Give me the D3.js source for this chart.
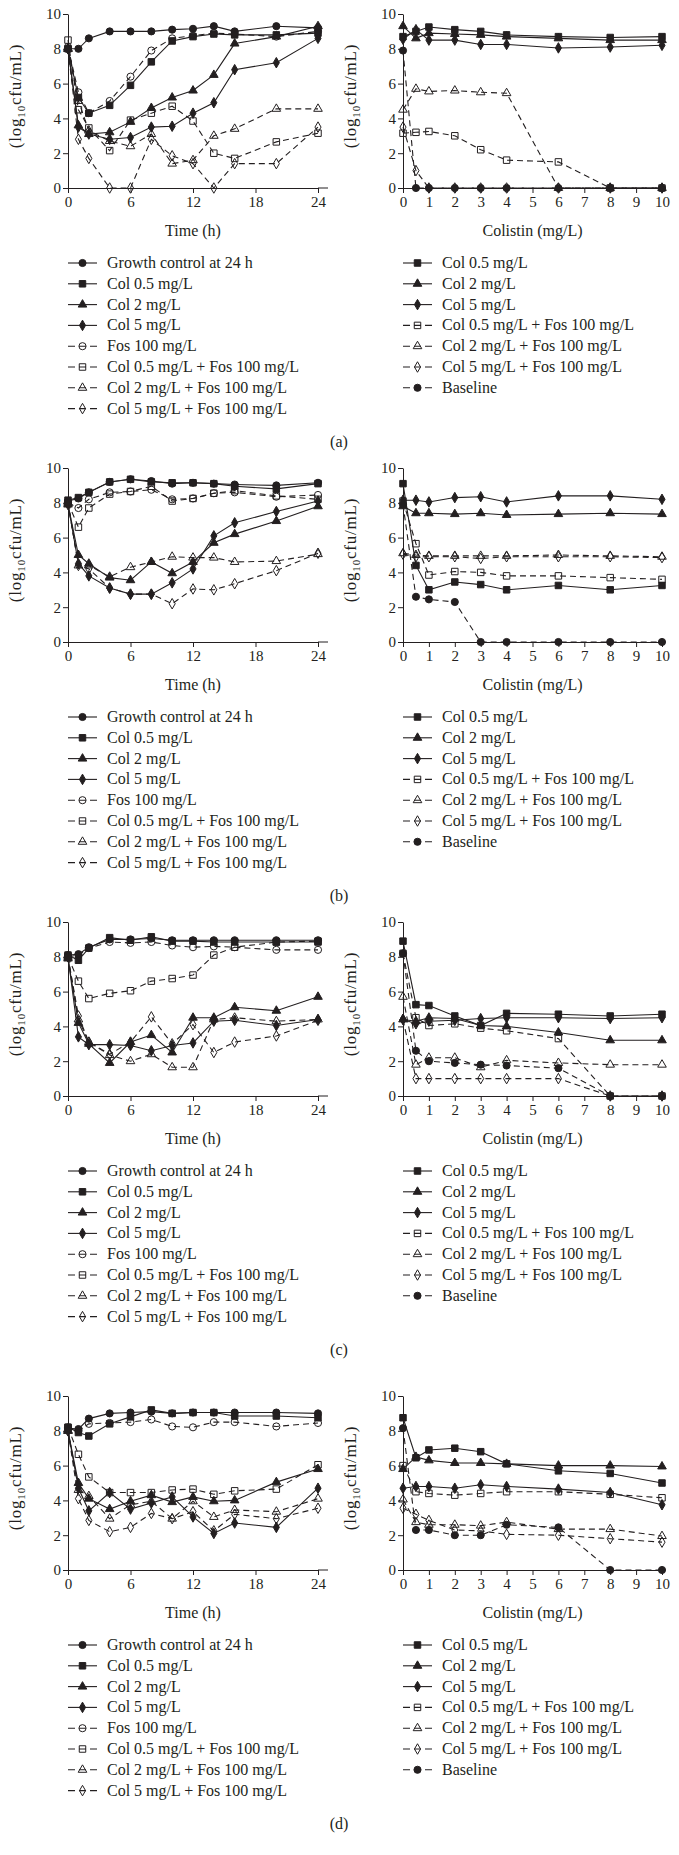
<!DOCTYPE html>
<html>
<head>
<meta charset="utf-8">
<script src="https://cdn.jsdelivr.net/npm/d3@7"></script>
<style>
  body { margin: 0; background: #fff; }
  svg { display: block; }
</style>
</head>
<body>
<svg id="chart"></svg>
<script>
// x values
const timeHours = [0, 1, 2, 4, 6, 8, 10, 12, 14, 16, 20, 24];
const colistinDoses = [0, 0.5, 1, 2, 3, 4, 6, 8, 10];
const timeTicks = [0, 6, 12, 18, 24];
const doseTicks = [0, 1, 2, 3, 4, 5, 6, 7, 8, 9, 10];
const logTicks = [0, 2, 4, 6, 8, 10];

const timeSeries = ["Growth control at 24 h", "Col 0.5 mg/L", "Col 2 mg/L", "Col 5 mg/L",
  "Fos 100 mg/L", "Col 0.5 mg/L + Fos 100 mg/L", "Col 2 mg/L + Fos 100 mg/L", "Col 5 mg/L + Fos 100 mg/L"];
const doseSeries = ["Col 0.5 mg/L", "Col 2 mg/L", "Col 5 mg/L", "Col 0.5 mg/L + Fos 100 mg/L",
  "Col 2 mg/L + Fos 100 mg/L", "Col 5 mg/L + Fos 100 mg/L", "Baseline"];
const panelLabels = ["(a)", "(b)", "(c)", "(d)"];

// time-kill values (log10 cfu/mL), one row per timeSeries entry
const timeA = [
  [8.0, 8.0, 8.6, 9.0, 9.0, 9.0, 9.1, 9.15, 9.3, 9.0, 9.3, 9.2],
  [8.0, 5.2, 4.3, 4.75, 5.9, 7.25, 8.45, 8.7, 8.85, 8.8, 8.8, 8.9],
  [8.0, 3.6, 3.1, 3.2, 3.8, 4.6, 5.2, 5.6, 6.5, 8.3, 8.7, 9.3],
  [8.0, 3.5, 3.1, 2.8, 2.9, 3.5, 3.55, 4.3, 4.9, 6.8, 7.2, 8.6],
  [8.1, 5.5, 4.3, 5.0, 6.4, 7.9, 8.6, 8.75, 8.9, 8.85, 8.7, 9.0],
  [8.5, 4.5, 3.45, 2.15, 3.9, 4.3, 4.7, 3.85, 2.0, 1.7, 2.65, 3.15],
  [8.0, 5.0, 3.3, 2.7, 2.4, 3.1, 1.4, 1.6, 3.0, 3.4, 4.55, 4.55],
  [8.0, 2.8, 1.7, 0, 0, 2.8, 1.85, 1.4, 0, 1.4, 1.4, 3.5]
];
const timeB = [
  [8.1, 8.25, 8.6, 9.2, 9.35, 9.25, 9.1, 9.15, 9.1, 9.05, 9.0, 9.15],
  [8.15, 8.3, 8.6, 9.2, 9.35, 9.2, 9.15, 9.15, 9.1, 8.95, 8.8, 9.1],
  [7.9, 5.0, 4.5, 3.7, 3.55, 4.6, 3.95, 4.6, 5.7, 6.2, 6.95, 7.8],
  [7.9, 4.5, 3.8, 3.1, 2.75, 2.75, 3.4, 4.2, 6.1, 6.85, 7.5, 8.1],
  [8.0, 7.7, 8.2, 8.6, 8.65, 8.75, 8.2, 8.25, 8.55, 8.6, 8.35, 8.45],
  [8.0, 6.6, 7.7, 8.5, 8.65, 8.95, 8.1, 8.25, 8.55, 8.7, 8.4, 8.2],
  [8.0, 4.4, 4.4, 3.75, 4.3, 4.6, 4.9, 4.85, 4.85, 4.6, 4.65, 5.05],
  [8.0, 4.4, 4.2, 3.1, 2.75, 2.75, 2.2, 3.05, 3.0, 3.35, 4.1, 5.1]
];
const timeC = [
  [8.1, 8.15, 8.55, 9.0, 9.0, 9.05, 8.95, 8.95, 8.95, 8.95, 8.95, 8.95],
  [8.1, 7.8, 8.5, 9.1, 8.95, 9.15, 8.9, 8.9, 8.85, 8.85, 8.85, 8.85],
  [7.9, 4.2, 3.0, 1.9, 3.1, 3.5, 2.5, 4.5, 4.5, 5.1, 4.9, 5.7],
  [8.0, 3.4, 2.95, 2.95, 2.9, 2.6, 2.9, 3.05, 4.3, 4.35, 4.05, 4.4],
  [8.0, 8.1, 8.5, 8.85, 8.8, 8.85, 8.65, 8.55, 8.6, 8.55, 8.4, 8.4],
  [8.0, 6.6, 5.6, 5.9, 6.05, 6.6, 6.75, 6.95, 8.1, 8.55, 8.85, 8.9],
  [8.0, 4.4, 3.1, 2.35, 2.0, 2.4, 1.65, 1.65, 4.4, 4.5, 4.3, 4.4],
  [8.0, 4.6, 3.1, 2.4, 3.1, 4.55, 3.0, 4.1, 2.5, 3.1, 3.45, 4.35]
];
const timeD = [
  [8.15, 8.1, 8.7, 9.0, 9.05, 9.1, 9.0, 9.05, 9.05, 9.05, 9.05, 9.0],
  [8.2, 7.9, 7.7, 8.4, 8.8, 9.2, 9.0, 9.05, 9.05, 8.85, 8.85, 8.75],
  [8.0, 5.0, 4.1, 3.5, 3.95, 4.3, 3.9, 4.2, 3.95, 4.0, 5.05, 5.8],
  [8.0, 4.7, 3.4, 4.45, 3.5, 3.85, 4.2, 3.05, 2.1, 2.7, 2.45, 4.7],
  [8.2, 8.0, 8.4, 8.45, 8.5, 8.65, 8.25, 8.2, 8.5, 8.5, 8.25, 8.45],
  [8.2, 6.65, 5.35, 4.45, 4.45, 4.45, 4.6, 4.65, 4.35, 4.55, 4.65, 6.05],
  [8.0, 4.6, 4.25, 2.95, 3.75, 3.95, 2.95, 3.95, 3.05, 3.45, 3.35, 4.1],
  [8.0, 4.1, 2.85, 2.2, 2.45, 3.25, 2.95, 3.35, 2.25, 3.2, 2.95, 3.55]
];

// dose-response values, one row per doseSeries entry
const doseA = [
  [8.7, 9.0, 9.25, 9.1, 9.0, 8.8, 8.7, 8.65, 8.7],
  [9.3, 8.6, 8.9, 8.85, 8.8, 8.7, 8.6, 8.5, 8.5],
  [8.55, 9.1, 8.5, 8.5, 8.25, 8.25, 8.05, 8.1, 8.2],
  [3.15, 3.2, 3.25, 3.0, 2.2, 1.6, 1.5, 0, 0],
  [4.5, 5.7, 5.55, 5.6, 5.5, 5.45, 0, 0, 0],
  [3.5, 1.0, 0, 0, 0, 0, 0, 0, 0],
  [7.9, 0, 0, 0, 0, 0, 0, 0, 0]
];
const doseB = [
  [9.1, 4.4, 3.0, 3.45, 3.3, 3.0, 3.25, 3.0, 3.25],
  [7.8, 7.4, 7.4, 7.35, 7.4, 7.3, 7.35, 7.4, 7.35],
  [8.15, 8.15, 8.05, 8.3, 8.35, 8.05, 8.4, 8.4, 8.2],
  [8.1, 5.65, 3.85, 4.05, 4.0, 3.8, 3.8, 3.7, 3.6],
  [5.1, 5.0, 4.95, 4.95, 4.95, 4.95, 5.0, 4.95, 4.9],
  [5.05, 4.9, 4.9, 4.9, 4.8, 4.9, 4.9, 4.9, 4.85],
  [7.9, 2.6, 2.45, 2.3, 0, 0, 0, 0, 0]
];
const doseC = [
  [8.9, 5.25, 5.2, 4.6, 4.05, 4.75, 4.7, 4.6, 4.7],
  [4.4, 4.3, 4.5, 4.45, 4.05, 4.0, 3.65, 3.2, 3.2],
  [4.4, 4.15, 4.3, 4.35, 4.45, 4.5, 4.5, 4.45, 4.5],
  [8.2, 4.5, 4.05, 4.15, 3.9, 3.75, 3.3, 0, 0],
  [5.7, 1.8, 2.2, 2.2, 1.65, 2.05, 1.9, 1.8, 1.8],
  [4.4, 1.0, 1.0, 1.0, 1.0, 1.0, 1.0, 0, 0],
  [8.2, 2.6, 2.0, 1.9, 1.8, 1.75, 1.6, 0, 0]
];
const doseD = [
  [8.75, 6.45, 6.9, 7.0, 6.8, 6.1, 5.7, 5.55, 5.0],
  [5.8, 6.5, 6.3, 6.15, 6.15, 6.1, 6.0, 6.0, 5.95],
  [4.7, 4.8, 4.8, 4.7, 4.9, 4.8, 4.65, 4.45, 3.75],
  [6.0, 4.5, 4.4, 4.3, 4.4, 4.5, 4.5, 4.35, 4.15],
  [4.05, 2.75, 2.6, 2.6, 2.55, 2.75, 2.35, 2.35, 1.95],
  [3.55, 3.2, 2.85, 2.3, 2.25, 2.05, 2.0, 1.8, 1.6],
  [8.15, 2.3, 2.3, 2.0, 2.0, 2.6, 2.45, 0, 0]
];

const timeData = [timeA, timeB, timeC, timeD];
const doseData = [doseA, doseB, doseC, doseD];

// look of each series
const seriesStyle = {
  "Growth control at 24 h": { shape: 'circle', open: false, dashed: false },
  "Col 0.5 mg/L": { shape: 'square', open: false, dashed: false },
  "Col 2 mg/L": { shape: 'triangle', open: false, dashed: false },
  "Col 5 mg/L": { shape: 'diamond', open: false, dashed: false },
  "Fos 100 mg/L": { shape: 'circle', open: true, dashed: true },
  "Col 0.5 mg/L + Fos 100 mg/L": { shape: 'square', open: true, dashed: true },
  "Col 2 mg/L + Fos 100 mg/L": { shape: 'triangle', open: true, dashed: true },
  "Col 5 mg/L + Fos 100 mg/L": { shape: 'diamond', open: true, dashed: true },
  "Baseline": { shape: 'circle', open: false, dashed: true }
};
const symbolTypes = { circle: d3.symbolCircle, square: d3.symbolSquare, triangle: d3.symbolTriangle, diamond: d3.symbolDiamond };
const symbolSizes = { circle: 40, square: 42, triangle: 32, diamond: 32 };

const ink = '#231f20';
const serif = '"Liberation Serif", "DejaVu Serif", serif';

const width = 679;
const height = 1855;
const rowZero = [188, 642, 1096, 1570];
const plotH = 174;

let svg = d3.select('#chart')
  .attr('width', width)
  .attr('height', height)
  .style('font-family', serif);

let marker = (sel, name) => {
  let st = seriesStyle[name];
  sel.attr('d', d3.symbol().type(symbolTypes[st.shape]).size(symbolSizes[st.shape])())
    .attr('fill', st.open ? 'none' : ink)
    .attr('stroke', ink)
    .attr('stroke-width', 1);
};

let drawPanel = (xs, rows, names, x, y) => {
  let line = d3.line()
    .x((d, j) => x(xs[j]))
    .y(d => y(d));

  // dashed series below, solid ones on top
  let order = names.map((n, i) => i)
    .sort((a, b) => (seriesStyle[names[b]].dashed ? 1 : 0) - (seriesStyle[names[a]].dashed ? 1 : 0));

  order.forEach(i => {
    let st = seriesStyle[names[i]];
    let g = svg.append('g');
    g.append('path')
      .datum(rows[i])
      .attr('d', line)
      .attr('fill', 'none')
      .attr('stroke', ink)
      .attr('stroke-width', 1.1)
      .attr('stroke-dasharray', st.dashed ? '6,4' : null);
    g.selectAll('path.pt')
      .data(rows[i])
      .enter()
      .append('path')
      .attr('class', 'pt')
      .attr('transform', (d, j) => 'translate(' + x(xs[j]) + ',' + y(d) + ')')
      .call(marker, names[i]);
  });
};

let drawAxes = (x, y, ticks, extend, title, y0) => {
  let xAxis = d3.axisBottom(x).tickValues(ticks).tickSize(5).tickSizeOuter(0).tickPadding(3).tickFormat(d3.format('d'));
  let gx = svg.append('g')
    .attr('transform', 'translate(0,' + y0 + ')')
    .call(xAxis);
  gx.append('line')
    .attr('x1', x.range()[1]).attr('x2', x.range()[1] + extend)
    .attr('stroke', ink);

  let yAxis = d3.axisLeft(y).tickValues(logTicks).tickSize(5).tickSizeOuter(0).tickPadding(2);
  let gy = svg.append('g')
    .attr('transform', 'translate(' + x.range()[0] + ',0)')
    .call(yAxis);

  [gx, gy].forEach(g => {
    g.attr('font-family', serif).attr('font-size', 15);
    g.selectAll('path, line').attr('stroke', ink);
    g.selectAll('text').attr('fill', ink);
  });

  svg.append('text')
    .attr('x', (x.range()[0] + x.range()[1]) / 2)
    .attr('y', y0 + 48)
    .attr('text-anchor', 'middle')
    .attr('font-size', 16)
    .attr('fill', ink)
    .text(title);

  let t = svg.append('text')
    .attr('transform', 'translate(' + (x.range()[0] - 47) + ',' + (y0 - 92) + ') rotate(-90)')
    .attr('text-anchor', 'middle')
    .attr('font-size', 17)
    .attr('letter-spacing', 0.8)
    .attr('fill', ink);
  t.append('tspan').text('(log');
  t.append('tspan').attr('font-size', 11).attr('dy', 4).text('10');
  t.append('tspan').attr('dy', -4).text('cfu/mL)');
};

let drawLegend = (names, x0, top) => {
  names.forEach((name, i) => {
    let st = seriesStyle[name];
    let cy = top + i * 20.8;
    svg.append('line')
      .attr('x1', x0).attr('x2', x0 + 29)
      .attr('y1', cy).attr('y2', cy)
      .attr('stroke', ink)
      .attr('stroke-width', 1.1)
      .attr('stroke-dasharray', st.dashed ? '7,4' : null);
    svg.append('path')
      .attr('transform', 'translate(' + (x0 + 14.5) + ',' + cy + ')')
      .call(marker, name);
    svg.append('text')
      .attr('x', x0 + 39)
      .attr('y', cy + 5)
      .attr('font-size', 16)
      .attr('fill', ink)
      .text(name);
  });
};

rowZero.forEach((y0, r) => {
  let yScale = d3.scaleLinear().domain([0, 10]).range([y0, y0 - plotH]);
  let xTime = d3.scaleLinear().domain([0, 24]).range([68, 318]);
  let xDose = d3.scaleLinear().domain([0, 10]).range([403, 662]);

  drawAxes(xTime, yScale, timeTicks, 10, 'Time (h)', y0);
  drawAxes(xDose, yScale, doseTicks, 3, 'Colistin (mg/L)', y0);

  drawPanel(timeHours, timeData[r], timeSeries, xTime, yScale);
  drawPanel(colistinDoses, doseData[r], doseSeries, xDose, yScale);

  drawLegend(timeSeries, 68, y0 + 75);
  drawLegend(doseSeries, 403, y0 + 75);

  svg.append('text')
    .attr('x', 339)
    .attr('y', y0 + 259)
    .attr('text-anchor', 'middle')
    .attr('font-size', 16)
    .attr('fill', ink)
    .text(panelLabels[r]);
});
</script>
</body>
</html>
